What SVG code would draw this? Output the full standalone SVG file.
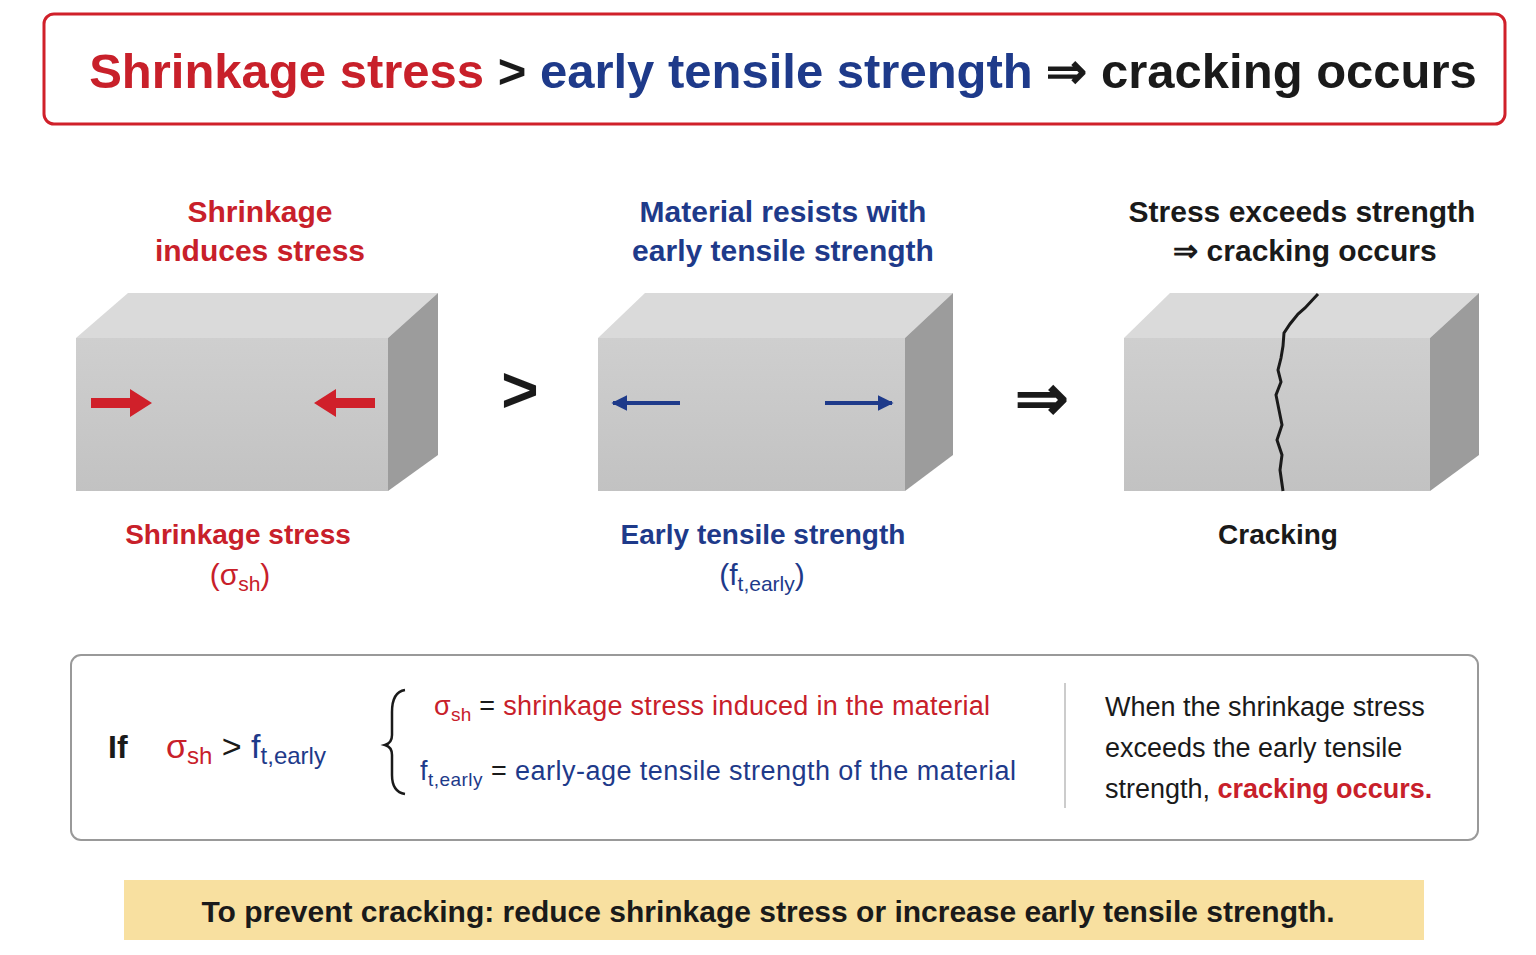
<svg xmlns="http://www.w3.org/2000/svg" width="1536" height="955" viewBox="0 0 1536 955">
<defs>
<style>
text{font-family:"Liberation Sans",Arial,sans-serif;font-weight:bold}
.red{fill:#c8202a}.blue{fill:#1e3a8a}.blk{fill:#1a1a1a}
.n{font-weight:normal}
.front{fill:#c9c9c9}.top{fill:#dadada}.side{fill:#9c9c9c}
</style>
<linearGradient id="fg" x1="0" y1="0" x2="0" y2="1"><stop offset="0" stop-color="#cfcfcf"/><stop offset="1" stop-color="#c2c2c2"/></linearGradient>
<marker id="bh" viewBox="0 0 10 10" refX="9" refY="5" markerWidth="4" markerHeight="4" orient="auto"><path d="M0,0L10,5L0,10z" fill="#1e3a8a"/></marker>
</defs>
<rect width="1536" height="955" fill="#fff"/>
<g id="title">
<rect x="44" y="14" width="1461" height="110" rx="10" fill="#fff" stroke="#d0202a" stroke-width="3"/>
<text x="783" y="88" font-size="49" text-anchor="middle"><tspan class="red">Shrinkage stress</tspan><tspan class="blk"> &gt; </tspan><tspan class="blue">early tensile strength</tspan><tspan class="blk"> ⇒ cracking occurs</tspan></text>
</g>
<g id="panel1">
<text x="260" y="222" font-size="30" text-anchor="middle" class="red">Shrinkage</text>
<text x="260" y="261" font-size="30" text-anchor="middle" class="red">induces stress</text>
<polygon class="top" points="76,338 128,293 438,293 388,338"/>
<polygon class="side" points="388,338 438,293 438,455 388,491"/>
<rect x="76" y="338" width="312" height="153" fill="url(#fg)"/>
<path d="M91,398H130V389L152,403L130,417V408H91z" fill="#d0202a"/>
<path d="M375,398H336V389L314,403L336,417V408H375z" fill="#d0202a"/>
<text x="238" y="544" font-size="28" text-anchor="middle" class="red">Shrinkage stress</text>
<text x="240" y="585" font-size="30" text-anchor="middle" class="red n">(σ<tspan font-size="21" dy="6">sh</tspan><tspan dy="-6">)</tspan></text>
</g>
<g id="op1"><text x="520" y="412" font-size="64" text-anchor="middle" class="blk">&gt;</text></g>
<g id="panel2">
<text x="783" y="222" font-size="30" text-anchor="middle" class="blue">Material resists with</text>
<text x="783" y="261" font-size="30" text-anchor="middle" class="blue">early tensile strength</text>
<polygon class="top" points="598,338 645,293 953,293 905,338"/>
<polygon class="side" points="905,338 953,293 953,455 905,491"/>
<rect x="598" y="338" width="307" height="153" fill="url(#fg)"/>
<line x1="680" y1="403" x2="613" y2="403" stroke="#1e3a8a" stroke-width="4" marker-end="url(#bh)"/>
<line x1="825" y1="403" x2="892" y2="403" stroke="#1e3a8a" stroke-width="4" marker-end="url(#bh)"/>
<text x="763" y="544" font-size="28" text-anchor="middle" class="blue">Early tensile strength</text>
<text x="762" y="585" font-size="30" text-anchor="middle" class="blue n">(f<tspan font-size="21" dy="6">t,early</tspan><tspan dy="-6">)</tspan></text>
</g>
<g id="op2"><text x="1042" y="420" font-size="64" text-anchor="middle" class="blk">⇒</text></g>
<g id="panel3">
<text x="1302" y="222" font-size="30" text-anchor="middle" class="blk">Stress exceeds strength</text>
<text x="1305" y="261" font-size="30" text-anchor="middle" class="blk">⇒ cracking occurs</text>
<polygon class="top" points="1124,338 1170,293 1479,293 1430,338"/>
<polygon class="side" points="1430,338 1479,293 1479,455 1430,491"/>
<rect x="1124" y="338" width="306" height="153" fill="url(#fg)"/>
<path d="M1318,294L1305,308L1298,314L1290,324L1284,333L1283,346L1281,358L1278,370L1281,382L1276,395L1279,410L1282,425L1277,440L1282,455L1280,470L1283,491" fill="none" stroke="#1a1a1a" stroke-width="3"/>
<text x="1278" y="544" font-size="28" text-anchor="middle" class="blk">Cracking</text>
</g>
<g id="formula">
<rect x="71" y="655" width="1407" height="185" rx="10" fill="#fff" stroke="#999" stroke-width="2"/>
<text x="108" y="758" font-size="32" class="blk">If</text>
<text x="166" y="758" font-size="34" class="n"><tspan class="red">σ<tspan font-size="24" dy="6">sh</tspan></tspan><tspan class="blk" dy="-6"> &gt; </tspan><tspan class="blue">f<tspan font-size="24" dy="6">t,early</tspan></tspan></text>
<path d="M405,690Q392,692 392,712V735Q392,743 385,745Q392,747 392,755V775Q392,792 405,794" fill="none" stroke="#1a1a1a" stroke-width="2.5"/>
<text x="434" y="715" font-size="27" class="n red" textLength="556">σ<tspan font-size="19" dy="6">sh</tspan><tspan dy="-6" class="blk">  =  </tspan>shrinkage stress induced in the material</text>
<text x="420" y="780" font-size="27" class="n blue" textLength="596">f<tspan font-size="19" dy="6">t,early</tspan><tspan dy="-6" class="blk">  =  </tspan>early-age tensile strength of the material</text>
<line x1="1065" y1="683" x2="1065" y2="808" stroke="#ccc" stroke-width="2"/>
<text x="1105" y="716" font-size="27" class="n blk">When the shrinkage stress</text>
<text x="1105" y="757" font-size="27" class="n blk">exceeds the early tensile</text>
<text x="1105" y="798" font-size="27" class="n blk">strength, <tspan class="red" font-weight="bold">cracking occurs.</tspan></text>
</g>
<g id="footer">
<rect x="124" y="880" width="1300" height="60" fill="#f8e0a0"/>
<text x="768" y="922" font-size="30" text-anchor="middle" class="blk">To prevent cracking:  reduce shrinkage stress or increase early tensile strength.</text>
</g>
</svg>
